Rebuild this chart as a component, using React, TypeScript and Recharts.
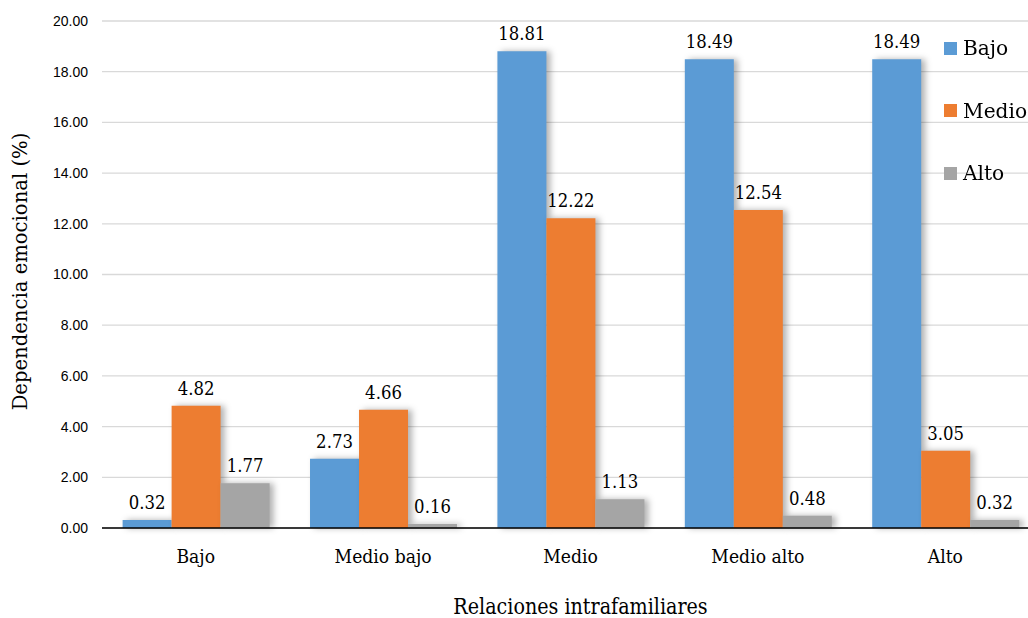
import React from "react";
import {
  BarChart,
  Bar,
  XAxis,
  YAxis,
  CartesianGrid,
  LabelList,
} from "recharts";

// categories on the x axis (Relaciones intrafamiliares)
const categories = ["Bajo", "Medio bajo", "Medio", "Medio alto", "Alto"];

// series values, % of dependencia emocional
const bajo = [0.32, 2.73, 18.81, 18.49, 18.49];
const medio = [4.82, 4.66, 12.22, 12.54, 3.05];
const alto = [1.77, 0.16, 1.13, 0.48, 0.32];

const yTicks = [0, 2, 4, 6, 8, 10, 12, 14, 16, 18, 20];

const series = [
  { key: "bajo", name: "Bajo", color: "#5B9BD5" },
  { key: "medio", name: "Medio", color: "#ED7D31" },
  { key: "alto", name: "Alto", color: "#A5A5A5" },
];

const data = categories.map((c, i) => ({
  name: c,
  bajo: bajo[i],
  medio: medio[i],
  alto: alto[i],
}));

// only DejaVu Serif renders as a real serif here, so squeeze it a bit to look like Times
const serif = "DejaVu Serif";
const sans = "Liberation Sans";

function SerifText({
  x,
  y,
  size,
  k,
  rotate = 0,
  children,
}: {
  x: number;
  y: number;
  size: number;
  k: number;
  rotate?: number;
  children: React.ReactNode;
}) {
  return (
    <text
      transform={`translate(${x},${y}) rotate(${rotate}) scale(${k},1)`}
      textAnchor="middle"
      fontFamily={serif}
      fontSize={size}
      fill="#000"
    >
      {children}
    </text>
  );
}

const XTick = (props: any) => (
  <SerifText x={props.x} y={563} size={18.5} k={0.93}>
    {props.payload.value}
  </SerifText>
);

const ValueLabel = (props: any) => (
  <SerifText x={props.x + props.width / 2} y={props.y - 11} size={19} k={0.87}>
    {Number(props.value).toFixed(2)}
  </SerifText>
);

export default function App() {
  return (
    <div
      style={{
        position: "fixed",
        left: 0,
        top: 0,
        width: 1028,
        height: 618,
        overflow: "hidden",
        background: "#fff",
      }}
    >
      <BarChart
        width={1040}
        height={618}
        data={data}
        margin={{ top: 21, right: 1, left: 0, bottom: 0 }}
        barCategoryGap="11%"
        barGap={0}
      >
        <CartesianGrid vertical={false} stroke="#d9d9d9" strokeWidth={1.3} />
        <XAxis
          dataKey="name"
          height={90}
          tickLine={false}
          tickSize={0}
          tickMargin={21}
          axisLine={{ stroke: "#000", strokeWidth: 1.3 }}
          tick={<XTick />}
          label={{
            content: (p: any) => (
              <SerifText
                x={p.viewBox.x + p.viewBox.width / 2 + 10}
                y={614}
                size={22.5}
                k={0.85}
              >
                Relaciones intrafamiliares
              </SerifText>
            ),
          }}
        />
        <YAxis
          width={102}
          domain={[0, 20]}
          ticks={yTicks}
          interval={0}
          tickFormatter={(v: number) => v.toFixed(2)}
          axisLine={false}
          tickLine={false}
          tickSize={0}
          tickMargin={14}
          tick={{ fill: "#000", fontFamily: sans, fontSize: 14 }}
          label={{
            content: (p: any) => (
              <SerifText
                x={27}
                y={p.viewBox.y + p.viewBox.height / 2 - 3}
                size={20}
                k={0.98}
                rotate={-90}
              >
                Dependencia emocional  (%)
              </SerifText>
            ),
          }}
        />
        {series.map((s) => (
          <Bar
            key={s.key}
            dataKey={s.key}
            name={s.name}
            fill={s.color}
            isAnimationActive={false}
            style={{ filter: "drop-shadow(4px 0px 3px rgba(0,0,0,0.3))" }}
          >
            <LabelList dataKey={s.key} content={<ValueLabel />} />
          </Bar>
        ))}
      </BarChart>
      {/* legend sits over the plot area, top right */}
      <div style={{ position: "absolute", left: 944, top: 17 }}>
        {series.map((s) => (
          <div
            key={s.key}
            style={{ display: "flex", alignItems: "center", height: 62.5 }}
          >
            <span
              style={{
                width: 13,
                height: 13,
                background: s.color,
                display: "inline-block",
                marginRight: 6,
                flex: "none",
              }}
            />
            <span
              style={{
                fontFamily: serif,
                fontSize: 21,
                color: "#000",
                lineHeight: "30px",
                display: "inline-block",
                transform: "scaleX(0.96)",
                transformOrigin: "left center",
              }}
            >
              {s.name}
            </span>
          </div>
        ))}
      </div>
    </div>
  );
}
